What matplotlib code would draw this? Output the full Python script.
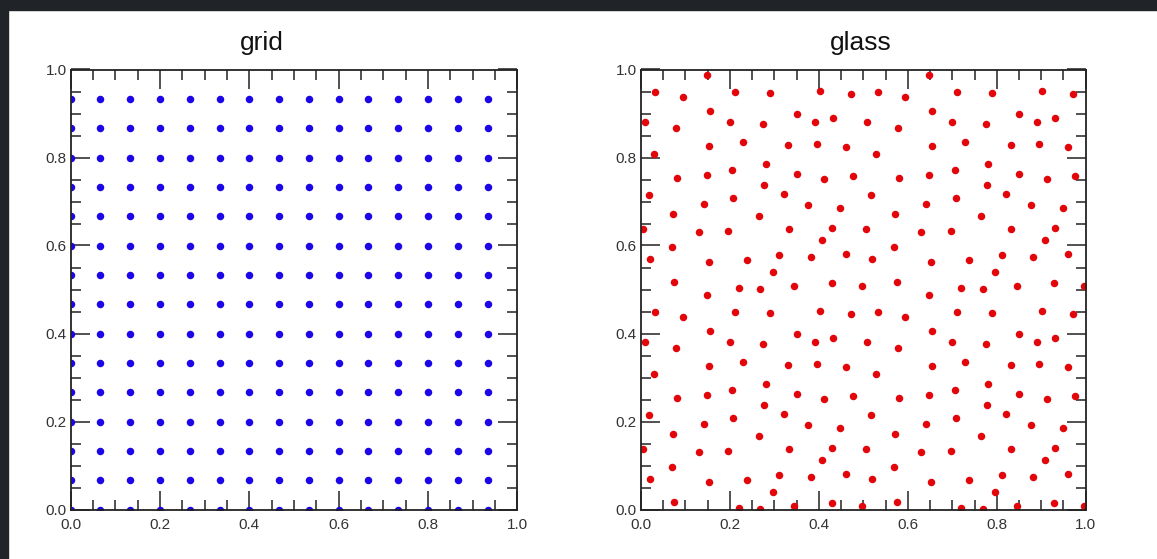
import numpy as np
import matplotlib
matplotlib.use("Agg")
import matplotlib.pyplot as plt
from matplotlib.patches import Rectangle
from matplotlib.ticker import MultipleLocator, FormatStrFormatter

plt.rcParams['font.family'] = ['Liberation Sans', 'DejaVu Sans']

# grid panel: regular 15 x 15 lattice
grid_coords = [0.0, 0.0667, 0.1333, 0.2, 0.2667, 0.3333, 0.4, 0.4667,
               0.5333, 0.6, 0.6667, 0.7333, 0.8, 0.8667, 0.9333]

# glass panel: one 0.5 x 0.5 tile, repeated 2 x 2
glass_x = [0.148, 0.032, 0.094, 0.211, 0.289, 0.155, 0.009, 0.079, 0.200, 0.275,
           0.229, 0.154, 0.029, 0.280, 0.205, 0.080, 0.148, 0.277, 0.017, 0.208,
           0.142, 0.071, 0.265, 0.005, 0.130, 0.196, 0.070, 0.020, 0.153, 0.238,
           0.297, 0.075, 0.220, 0.268, 0.402, 0.472, 0.350, 0.391, 0.432, 0.331,
           0.395, 0.461, 0.350, 0.412, 0.477, 0.321, 0.376, 0.448, 0.333, 0.430,
           0.408, 0.311, 0.382, 0.460, 0.345, 0.429, 0.497]
glass_y = [0.488, 0.450, 0.437, 0.449, 0.446, 0.406, 0.380, 0.367, 0.380, 0.376,
           0.336, 0.327, 0.307, 0.285, 0.271, 0.254, 0.261, 0.238, 0.214, 0.207,
           0.195, 0.172, 0.167, 0.138, 0.131, 0.132, 0.097, 0.069, 0.063, 0.066,
           0.039, 0.016, 0.003, 0.002, 0.452, 0.444, 0.399, 0.381, 0.390, 0.328,
           0.330, 0.324, 0.262, 0.251, 0.257, 0.217, 0.192, 0.186, 0.138, 0.139,
           0.112, 0.079, 0.074, 0.080, 0.008, 0.014, 0.007]
tile_offsets = [0.0, 0.5]

titles = ['grid', 'glass']
colors = ['#1c05e6', '#e2050a']

W, H = 1157, 559
fig = plt.figure(figsize=(W / 100, H / 100), dpi=100)
fig.patch.set_facecolor('white')

# dark frame remnants at top and left
fig.patches.append(Rectangle((0, 1 - 10 / H), 1, 10 / H, transform=fig.transFigure,
                             color='#202328', zorder=0))
fig.patches.append(Rectangle((0, 0), 8 / W, 1, transform=fig.transFigure,
                             color='#202328', zorder=0))

ax1 = fig.add_axes([70.7 / W, 49.5 / H, 446.6 / W, 440 / H])
ax2 = fig.add_axes([641 / W, 49.5 / H, 444.7 / W, 440 / H])

# grid points
gx, gy = np.meshgrid(grid_coords, grid_coords)
ax1.plot(gx.ravel(), gy.ravel(), 'o', color=colors[0], markersize=5.4,
         markeredgewidth=0)

# glass points
px, py = [], []
for ox in tile_offsets:
    for oy in tile_offsets:
        px += [v + ox for v in glass_x]
        py += [v + oy for v in glass_y]
ax2.plot(px, py, 'o', color=colors[1], markersize=5.4, markeredgewidth=0)

for ax in (ax1, ax2):
    ax.set_xlim(0, 1)
    ax.set_ylim(0, 1)
    ax.xaxis.set_major_locator(MultipleLocator(0.2))
    ax.yaxis.set_major_locator(MultipleLocator(0.2))
    ax.xaxis.set_minor_locator(MultipleLocator(0.05))
    ax.yaxis.set_minor_locator(MultipleLocator(0.05))
    ax.xaxis.set_major_formatter(FormatStrFormatter('%.1f'))
    ax.yaxis.set_major_formatter(FormatStrFormatter('%.1f'))
    ax.tick_params(which='both', direction='in', top=True, right=True,
                   color='#222222', labelcolor='#333333', labelsize=11)
    ax.tick_params(which='major', length=14, width=1.1)
    ax.tick_params(which='minor', length=7, width=1.1)
    ax.tick_params(axis='x', which='major', pad=6)
    ax.tick_params(axis='y', which='major', pad=3)
    for sp in ax.spines.values():
        sp.set_color('#222222')
        sp.set_linewidth(1.3)

fig.text(262 / W, 1 - 50 / H, titles[0], ha='center', va='baseline',
         fontsize=19, color='#111111')
fig.text(861 / W, 1 - 50 / H, titles[1], ha='center', va='baseline',
         fontsize=19, color='#111111')

fig.savefig('out.png', dpi=100)
